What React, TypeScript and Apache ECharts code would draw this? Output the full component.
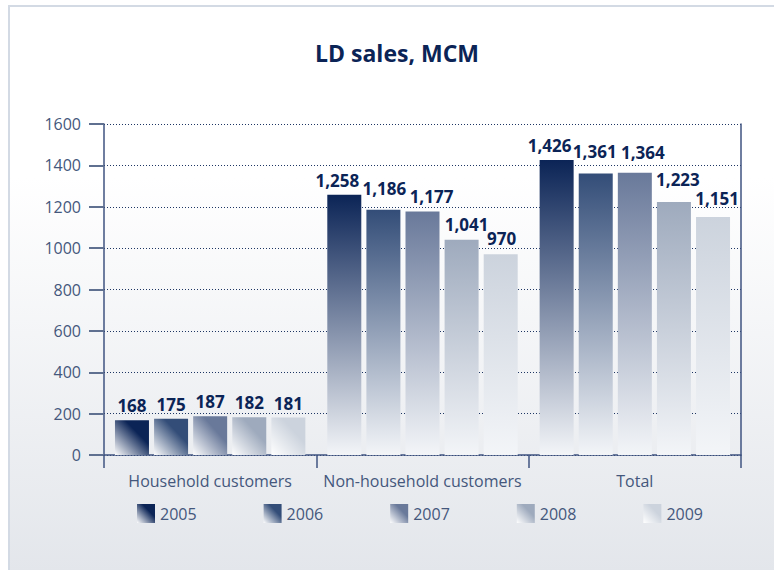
import React, { useEffect, useRef } from "react";
import * as echarts from "echarts";

const categories = ["Household customers", "Non-household customers", "Total"];
const years = ["2005", "2006", "2007", "2008", "2009"];
const values2005 = [168, 1258, 1426];
const values2006 = [175, 1186, 1361];
const values2007 = [187, 1177, 1364];
const values2008 = [182, 1041, 1223];
const values2009 = [181, 970, 1151];
const yTicks = { min: 0, max: 1600, interval: 200 };

const seriesValues = [values2005, values2006, values2007, values2008, values2009];
const yearColors = ["#0b2456", "#334d78", "#69799a", "#9eaabd", "#ccd3dd"];

// style only: hand-placed label nudges [dx, dy] per year, per category (as in the original layout)
const labelNudges = [
  [[0, 0], [-7, 0], [-7, 0]],
  [[0, 0], [1, -7], [-1, -7]],
  [[0, 0], [9, -1], [8, -6]],
  [[0, 0], [5, -1], [4, -8]],
  [[0, 0], [1, -1], [4, -4]],
];

const FONT = "'Open Sans', 'Noto Sans', sans-serif";
const TEXT_COLOR = "#44577c";
const AXIS_COLOR = "#3f5380";

function diagonal(color: string) {
  return new echarts.graphic.LinearGradient(1, 0, 0, 1, [
    { offset: 0, color },
    { offset: 0.35, color },
    { offset: 1, color: "#ffffff" },
  ]);
}
function vertical(color: string) {
  return new echarts.graphic.LinearGradient(0, 0, 0, 1, [
    { offset: 0, color },
    { offset: 1, color: "#f3f5f8" },
  ]);
}

export default function App() {
  const ref = useRef<HTMLDivElement>(null);
  useEffect(() => {
    if (!ref.current) return;
    const chart = echarts.init(ref.current, undefined, { renderer: "svg" });
    const series = years.map((y, si) => ({
      name: y,
      type: "bar",
      barWidth: 34,
      barGap: "15%",
      itemStyle: { color: diagonal(yearColors[si]) },
      label: {
        show: true,
        position: "top",
        distance: 6,
        fontFamily: FONT,
        fontSize: 17,
        fontWeight: "bold",
        color: "#0b2456",
        formatter: (p: any) => Number(p.value).toLocaleString("en-US"),
      },
      data: seriesValues[si].map((v, ci) => ({
        value: v,
        label: { offset: labelNudges[si][ci] },
        ...(ci === 0 ? {} : { itemStyle: { color: vertical(yearColors[si]) } }),
      })),
    }));
    chart.setOption({
      animation: false,
      backgroundColor: "transparent",
      textStyle: { fontFamily: FONT },
      title: {
        text: "LD sales, MCM",
        left: 392,
        top: 36,
        textAlign: "center",
        textStyle: {
          fontFamily: FONT,
          fontSize: 23,
          fontWeight: "bold",
          color: "#0b2456",
        },
      },
      legend: {
        data: years,
        left: 137,
        top: 504,
        padding: 0,
        icon: "rect",
        itemWidth: 18,
        itemHeight: 19,
        itemGap: 67,
        textStyle: { fontFamily: FONT, fontSize: 16, color: TEXT_COLOR },
      },
      grid: { left: 104, right: 33, top: 124, bottom: 115, containLabel: false },
      xAxis: {
        type: "category",
        data: categories,
        axisLine: { show: true, lineStyle: { color: AXIS_COLOR, width: 1.5 } },
        axisTick: { show: true, interval: 0, length: 13, lineStyle: { color: AXIS_COLOR, width: 1.5 } },
        axisLabel: { interval: 0, fontFamily: FONT, fontSize: 16, color: TEXT_COLOR, margin: 18 },
      },
      yAxis: [
        {
          type: "value",
          min: yTicks.min,
          max: yTicks.max,
          interval: yTicks.interval,
          axisLine: { show: true, lineStyle: { color: AXIS_COLOR, width: 1.5 } },
          axisTick: { show: true, length: 15, lineStyle: { color: "#5f7090", width: 2 } },
          axisLabel: {
            fontFamily: FONT,
            fontSize: 16,
            color: TEXT_COLOR,
            margin: 23,
            formatter: (v: number) => String(v),
          },
          splitLine: { show: true, lineStyle: { color: "#1d3563", width: 1, type: [1, 2] } },
        },
        {
          type: "value",
          position: "right",
          min: yTicks.min,
          max: yTicks.max,
          interval: yTicks.interval,
          axisLine: { show: true, lineStyle: { color: AXIS_COLOR, width: 1.5 } },
          axisTick: { show: false },
          axisLabel: { show: false },
          splitLine: { show: false },
        },
      ],
      series,
    });
    return () => chart.dispose();
  }, []);

  return (
    <div style={{ position: "fixed", left: 0, top: 0, width: 774, height: 570, background: "#ffffff", overflow: "hidden" }}>
      <div
        style={{
          position: "absolute",
          left: 8,
          top: 5,
          width: 800,
          height: 600,
          boxSizing: "border-box",
          borderLeft: "2px solid #d3dae4",
          borderTop: "2px solid #d3dae4",
          background: "linear-gradient(to bottom, #ffffff 0px, #ffffff 170px, #e3e6eb 565px)",
        }}
      />
      <div ref={ref} style={{ position: "absolute", left: 0, top: 0, width: 774, height: 570 }} />
    </div>
  );
}
